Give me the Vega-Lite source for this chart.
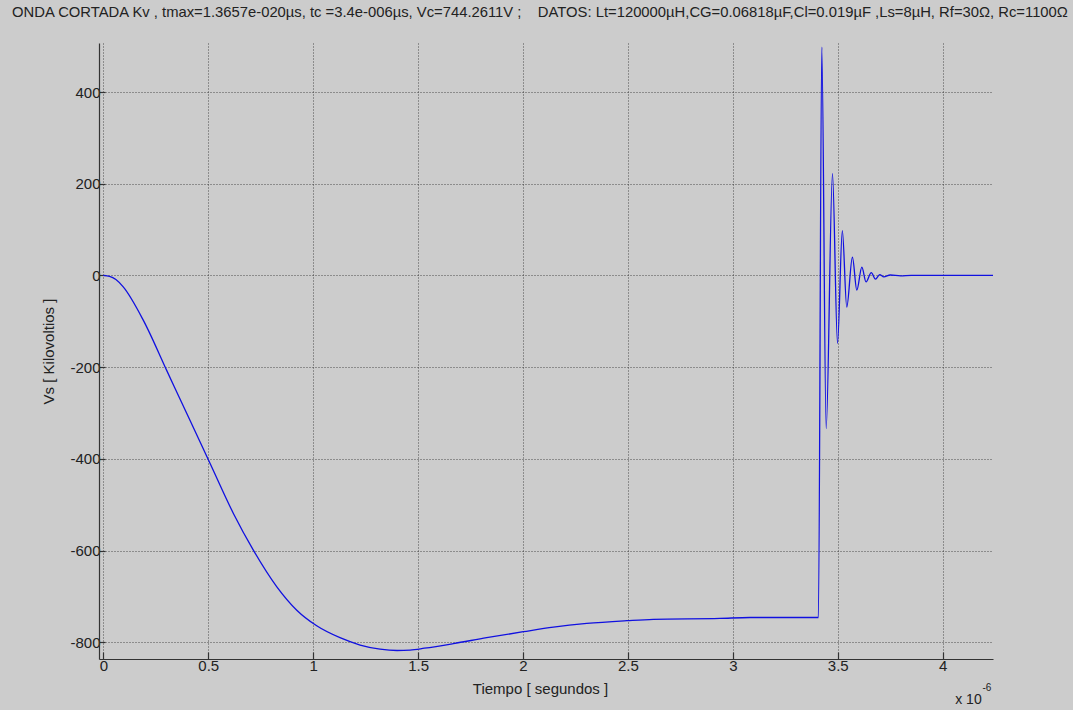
{
  "$schema": "https://vega.github.io/schema/vega-lite/v6.json",
  "autosize": {"type": "none"},
  "width": 894,
  "height": 616,
  "padding": {"left": 99, "top": 43, "right": 80, "bottom": 51},
  "background": "#cccccc",
  "config": {
    "view": {"stroke": null, "fill": "#cccccc"},
    "font": "Liberation Sans"
  },
  "title": {
    "text": "ONDA CORTADA Kv , tmax=1.3657e-020µs, tc =3.4e-006µs, Vc=744.2611V ;\u00a0\u00a0\u00a0\u00a0DATOS: Lt=120000µH,CG=0.06818µF,Cl=0.019µF ,Ls=8µH, Rf=30Ω, Rc=1100Ω",
    "anchor": "middle",
    "frame": "group",
    "dx": -6,
    "offset": 11,
    "baseline": "alphabetic",
    "fontSize": 14.8,
    "fontWeight": "normal",
    "font": "Liberation Sans",
    "color": "#222222"
  },
  "data": {
    "values": [
      {"t": 0, "v": 0}, {"t": 0.03, "v": -2}, {"t": 0.06, "v": -9}, {"t": 0.095, "v": -25},
      {"t": 0.191, "v": -98}, {"t": 0.302, "v": -207}, {"t": 0.413, "v": -316}, {"t": 0.509, "v": -410},
      {"t": 0.62, "v": -519}, {"t": 0.715, "v": -599}, {"t": 0.827, "v": -679}, {"t": 0.922, "v": -730},
      {"t": 1.017, "v": -764}, {"t": 1.128, "v": -790}, {"t": 1.224, "v": -806}, {"t": 1.319, "v": -815},
      {"t": 1.4, "v": -818}, {"t": 1.462, "v": -817}, {"t": 1.53, "v": -813}, {"t": 1.668, "v": -803},
      {"t": 1.827, "v": -790}, {"t": 2.002, "v": -777}, {"t": 2.145, "v": -767}, {"t": 2.304, "v": -759},
      {"t": 2.495, "v": -753}, {"t": 2.621, "v": -750}, {"t": 2.939, "v": -748}, {"t": 3.082, "v": -746},
      {"t": 3.408, "v": -746}, {"t": 3.424, "v": 498}, {"t": 3.445, "v": -334}, {"t": 3.475, "v": 222},
      {"t": 3.499, "v": -148}, {"t": 3.522, "v": 98}, {"t": 3.543, "v": -69}, {"t": 3.57, "v": 40},
      {"t": 3.591, "v": -32}, {"t": 3.615, "v": 18}, {"t": 3.635, "v": -14}, {"t": 3.66, "v": 6},
      {"t": 3.68, "v": -8}, {"t": 3.7, "v": 2}, {"t": 3.72, "v": -3}, {"t": 3.75, "v": 1},
      {"t": 3.8, "v": -1}, {"t": 3.85, "v": 0}, {"t": 4.24, "v": 0}
    ]
  },
  "layer": [
    {
      "mark": {"type": "line", "color": "#1010e0", "strokeWidth": 1.3, "interpolate": "monotone", "clip": true},
      "encoding": {
        "x": {
          "field": "t", "type": "quantitative",
          "scale": {"domain": [-0.0205, 4.24], "nice": false, "zero": false},
          "axis": {
            "title": "Tiempo [ segundos ]",
            "values": [0, 0.5, 1, 1.5, 2, 2.5, 3, 3.5, 4],
            "labelExpr": "'' + datum.value",
            "grid": true, "gridColor": "#222222", "gridDash": [1, 2], "gridOpacity": 0.75, "gridWidth": 1,
            "domainColor": "#333333", "domainWidth": 1.2,
            "tickColor": "#333333", "tickSize": -7, "tickWidth": 1.2,
            "labelPadding": 6, "labelFontSize": 15, "labelColor": "#222222", "labelFont": "Liberation Sans",
            "titleFontSize": 15, "titleFontWeight": "normal", "titleColor": "#222222", "titleFont": "Liberation Sans",
            "titlePadding": 8, "titleX": 441
          }
        },
        "y": {
          "field": "v", "type": "quantitative",
          "scale": {"domain": [-836.5, 507], "nice": false, "zero": false},
          "axis": {
            "title": "Vs [ Kilovoltios ]",
            "values": [-800, -600, -400, -200, 0, 200, 400],
            "labelExpr": "'' + datum.value",
            "grid": true, "gridColor": "#222222", "gridDash": [1, 2], "gridOpacity": 0.75, "gridWidth": 1,
            "domainColor": "#333333", "domainWidth": 1.2,
            "tickColor": "#333333", "tickSize": -6, "tickWidth": 1.2,
            "labelPadding": 5, "labelFontSize": 15, "labelColor": "#222222", "labelFont": "Liberation Sans",
            "titleFontSize": 15, "titleFontWeight": "normal", "titleColor": "#222222", "titleFont": "Liberation Sans",
            "titlePadding": 13
          }
        }
      }
    },
    {
      "data": {"values": [{"label": "x 10"}]},
      "mark": {"type": "text", "align": "left", "baseline": "alphabetic", "fontSize": 14, "color": "#222222", "font": "Liberation Sans"},
      "encoding": {
        "x": {"datum": 4.06, "type": "quantitative"},
        "y": {"datum": -935, "type": "quantitative"},
        "text": {"field": "label"}
      }
    },
    {
      "data": {"values": [{"label": "-6"}]},
      "mark": {"type": "text", "align": "left", "baseline": "alphabetic", "fontSize": 10, "color": "#222222", "font": "Liberation Sans"},
      "encoding": {
        "x": {"datum": 4.19, "type": "quantitative"},
        "y": {"datum": -906, "type": "quantitative"},
        "text": {"field": "label"}
      }
    }
  ]
}
